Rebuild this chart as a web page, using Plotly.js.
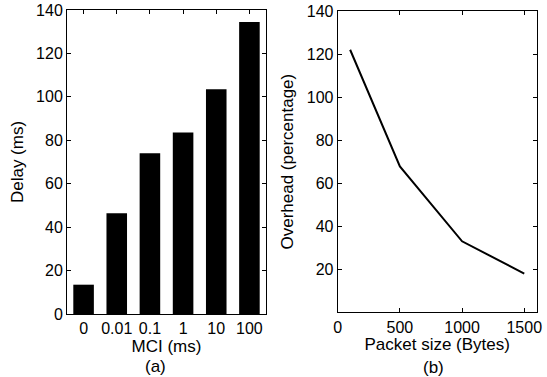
<!DOCTYPE html>
<html>
<head>
<meta charset="utf-8">
<script src="https://cdn.plot.ly/plotly-3.0.1.min.js"></script>
<style>html,body{margin:0;padding:0;background:#fff;}#chart{width:547px;height:377px;}</style>
</head>
<body>
<div id="chart"></div>
<script>
// Data (a): delay vs MCI
const mciLabels = ["0", "0.01", "0.1", "1", "10", "100"];
const delayMs = [13.5, 46.4, 74.0, 83.6, 103.5, 134.5];
// Data (b): overhead vs packet size
const packetSize = [100, 500, 1000, 1500];
const overheadPct = [122, 67.8, 33, 18];
const yTicksA = [0, 20, 40, 60, 80, 100, 120, 140];
const yTicksB = [20, 40, 60, 80, 100, 120, 140];
const xTicksB = [0, 500, 1000, 1500];

const W = 547, H = 377;
const font = {family: "Liberation Sans, Arial, Helvetica, sans-serif", color: "#000"};
const tickFont = Object.assign({}, font, {size: 16});
const titleFont = Object.assign({}, font, {size: 17});

const axisCommon = {
  showline: true, linecolor: "#000", linewidth: 1, mirror: "allticks",
  ticks: "inside", ticklen: 4, tickcolor: "#000", tickwidth: 1,
  showgrid: false, zeroline: false, tickfont: tickFont, automargin: false
};

const traces = [
  {type: "bar", x: mciLabels, y: delayMs, xaxis: "x", yaxis: "y",
   width: 0.62, marker: {color: "#000", line: {width: 0}}, hoverinfo: "none"},
  {type: "scatter", mode: "lines", x: packetSize, y: overheadPct, xaxis: "x2", yaxis: "y2",
   line: {color: "#000", width: 2}, hoverinfo: "none"}
];

const layout = {
  width: W, height: H,
  margin: {l: 0, r: 0, t: 0, b: 0},
  paper_bgcolor: "#fff", plot_bgcolor: "#fff",
  showlegend: false, font: font,
  xaxis: Object.assign({}, axisCommon, {
    domain: [67 / W, 266 / W], anchor: "y", type: "category",
    range: [-0.5, 5.5],
    title: {text: "MCI (ms)", font: titleFont, standoff: 2}
  }),
  yaxis: Object.assign({}, axisCommon, {
    domain: [(H - 314) / H, (H - 10) / H], anchor: "x",
    range: [0, 140], tickvals: yTicksA, ticktext: yTicksA.map(String),
    title: {text: "Delay (ms)", font: titleFont, standoff: 8}
  }),
  xaxis2: Object.assign({}, axisCommon, {
    domain: [337.7 / W, 536.7 / W], anchor: "y2",
    range: [0, 1600], tickvals: xTicksB, ticktext: xTicksB.map(String),
    title: {text: "Packet size (Bytes)", font: titleFont, standoff: 2}
  }),
  yaxis2: Object.assign({}, axisCommon, {
    domain: [(H - 312.3) / H, (H - 11) / H], anchor: "x2",
    range: [0, 140], tickvals: yTicksB, ticktext: yTicksB.map(String),
    title: {text: "Overhead (percentage)", font: titleFont, standoff: 8}
  }),
  annotations: [
    {text: "(a)", xref: "paper", yref: "paper", x: 155 / W, y: (H - 366) / H,
     xanchor: "center", yanchor: "middle", showarrow: false, font: titleFont},
    {text: "(b)", xref: "paper", yref: "paper", x: 433 / W, y: (H - 367) / H,
     xanchor: "center", yanchor: "middle", showarrow: false, font: titleFont}
  ]
};

Plotly.newPlot("chart", traces, layout, {staticPlot: true, displayModeBar: false});
</script>
</body>
</html>
